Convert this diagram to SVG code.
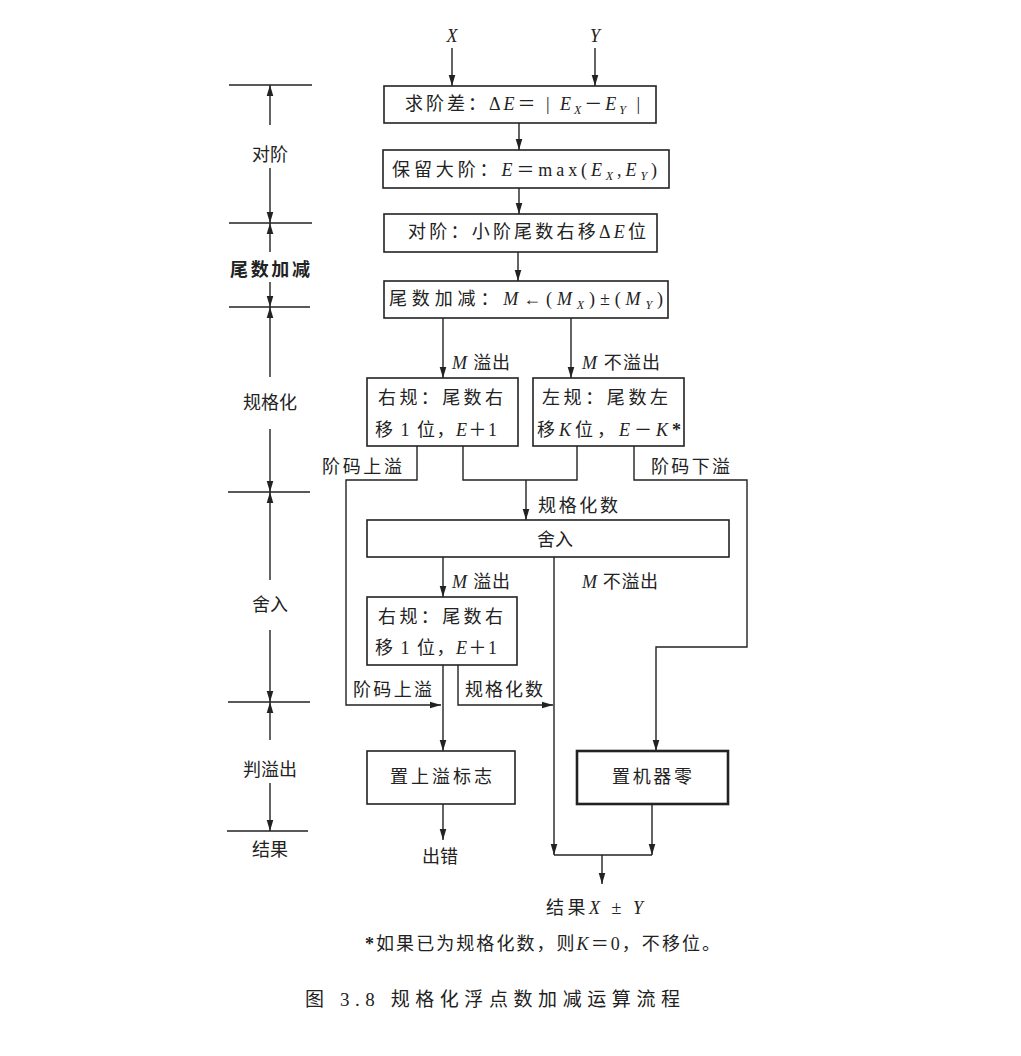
<svg xmlns="http://www.w3.org/2000/svg" width="1021" height="1056" viewBox="0 0 1021 1056">
<style>
.t{font-family:"Liberation Serif","Noto Sans CJK SC",serif;font-size:18px;fill:#222}
.cap{font-size:19px}
.i{font-style:italic}
.s{font-size:12px;font-style:italic}
.b{font-weight:bold}
.box{fill:#fff;stroke:#222;stroke-width:1.6}
.thick{stroke-width:2.6}
.c{fill:none;stroke:#222;stroke-width:1.4}
</style>
<defs>
<marker id="a" viewBox="0 0 10 10" refX="10" refY="5" markerWidth="11" markerHeight="11" markerUnits="userSpaceOnUse" orient="auto"><path d="M0,2 L10,5 L0,8 z" fill="#222"/></marker>
</defs>
<rect width="1021" height="1056" fill="#fff"/>

<g id="scale">
<g class="c">
<line x1="229" y1="85" x2="312" y2="85"/>
<line x1="229" y1="223" x2="312" y2="223"/>
<line x1="229" y1="307" x2="310" y2="307"/>
<line x1="228" y1="492" x2="310" y2="492"/>
<line x1="228" y1="702" x2="310" y2="702"/>
<line x1="227" y1="831" x2="308" y2="831"/>
<line x1="270" y1="125" x2="270" y2="85" marker-end="url(#a)"/>
<line x1="270" y1="168" x2="270" y2="223" marker-end="url(#a)"/>
<line x1="270" y1="252" x2="270" y2="223" marker-end="url(#a)"/>
<line x1="270" y1="282" x2="270" y2="307" marker-end="url(#a)"/>
<line x1="270" y1="377" x2="270" y2="307" marker-end="url(#a)"/>
<line x1="270" y1="429" x2="270" y2="492" marker-end="url(#a)"/>
<line x1="270" y1="580" x2="270" y2="492" marker-end="url(#a)"/>
<line x1="270" y1="630" x2="270" y2="702" marker-end="url(#a)"/>
<line x1="270" y1="740" x2="270" y2="702" marker-end="url(#a)"/>
<line x1="270" y1="783" x2="270" y2="831" marker-end="url(#a)"/>
</g>
<text class="t" x="270" y="161" text-anchor="middle">对阶</text>
<text class="t b" x="270" y="276" text-anchor="middle" textLength="80">尾数加减</text>
<text class="t" x="270" y="409" text-anchor="middle">规格化</text>
<text class="t" x="270" y="611" text-anchor="middle">舍入</text>
<text class="t" x="270" y="776" text-anchor="middle">判溢出</text>
<text class="t" x="270" y="856" text-anchor="middle">结果</text>
</g>

<g id="connectors" class="c">
<line x1="452" y1="48" x2="452" y2="86" marker-end="url(#a)"/>
<line x1="595" y1="48" x2="595" y2="86" marker-end="url(#a)"/>
<line x1="519" y1="123" x2="519" y2="150" marker-end="url(#a)"/>
<line x1="519" y1="188" x2="519" y2="214" marker-end="url(#a)"/>
<line x1="518" y1="252" x2="518" y2="281" marker-end="url(#a)"/>
<line x1="443" y1="318" x2="443" y2="378" marker-end="url(#a)"/>
<line x1="571" y1="318" x2="571" y2="378" marker-end="url(#a)"/>
<polyline points="417,446 417,480 346,480 346,705 441,705" marker-end="url(#a)"/>
<polyline points="463,446 463,480 577,480 577,446"/>
<line x1="526" y1="480" x2="526" y2="520" marker-end="url(#a)"/>
<polyline points="634,446 634,480 747,480 747,647 656,647 656,751" marker-end="url(#a)"/>
<line x1="443" y1="557" x2="443" y2="597" marker-end="url(#a)"/>
<line x1="554" y1="557" x2="554" y2="855" marker-end="url(#a)"/>
<line x1="443" y1="665" x2="443" y2="751" marker-end="url(#a)"/>
<polyline points="458,665 458,705 553,705" marker-end="url(#a)"/>
<line x1="443" y1="804" x2="443" y2="840" marker-end="url(#a)"/>
<line x1="652" y1="804" x2="652" y2="855" marker-end="url(#a)"/>
<line x1="554" y1="855" x2="652" y2="855"/>
<line x1="602" y1="855" x2="602" y2="884" marker-end="url(#a)"/>
</g>

<g id="labels">
<text class="t i" x="452" y="42" text-anchor="middle">X</text>
<text class="t i" x="595" y="42" text-anchor="middle">Y</text>
<text class="t" x="452" y="369" textLength="58"><tspan class="i">M</tspan> 溢出</text>
<text class="t" x="582" y="369" textLength="78"><tspan class="i">M</tspan> 不溢出</text>
<text class="t" x="322" y="473" textLength="80">阶码上溢</text>
<text class="t" x="651" y="473" textLength="79">阶码下溢</text>
<text class="t" x="538" y="512" textLength="80">规格化数</text>
<text class="t" x="452" y="588" textLength="58"><tspan class="i">M</tspan> 溢出</text>
<text class="t" x="582" y="588" textLength="76"><tspan class="i">M</tspan> 不溢出</text>
<text class="t" x="353" y="696" textLength="79">阶码上溢</text>
<text class="t" x="465" y="696" textLength="78">规格化数</text>
<text class="t" x="422" y="863" textLength="36">出错</text>
<text class="t" x="546" y="914" textLength="97">结果<tspan class="i">X</tspan> ± <tspan class="i">Y</tspan></text>
</g>

<g id="n1">
<rect class="box" x="384" y="86" width="272" height="37"/>
<text class="t" x="405" y="110" textLength="235">求阶差：Δ<tspan class="i">E</tspan>＝ | <tspan class="i">E</tspan><tspan class="s" dy="4">X</tspan><tspan dy="-4">－</tspan><tspan class="i">E</tspan><tspan class="s" dy="4">Y</tspan><tspan dy="-4"> |</tspan></text>
</g>
<g id="n2">
<rect class="box" x="383" y="150" width="286" height="38"/>
<text class="t" x="392" y="176" textLength="265">保留大阶：<tspan class="i">E</tspan>＝max(<tspan class="i">E</tspan><tspan class="s" dy="4">X</tspan><tspan dy="-4">,</tspan><tspan class="i">E</tspan><tspan class="s" dy="4">Y</tspan><tspan dy="-4">)</tspan></text>
</g>
<g id="n3">
<rect class="box" x="384" y="214" width="273" height="38"/>
<text class="t" x="408" y="238" textLength="238">对阶：小阶尾数右移Δ<tspan class="i">E</tspan>位</text>
</g>
<g id="n4">
<rect class="box" x="384" y="281" width="284" height="37"/>
<text class="t" x="389" y="305" textLength="274">尾数加减：<tspan class="i">M</tspan>←(<tspan class="i">M</tspan><tspan class="s" dy="4">X</tspan><tspan dy="-4">)±(</tspan><tspan class="i">M</tspan><tspan class="s" dy="4">Y</tspan><tspan dy="-4">)</tspan></text>
</g>
<g id="n5">
<rect class="box" x="367" y="378" width="151" height="68"/>
<text class="t" x="378" y="404" textLength="125">右规：尾数右</text>
<text class="t" x="375" y="436" textLength="122">移 1 位，<tspan class="i">E</tspan>＋1</text>
</g>
<g id="n6">
<rect class="box" x="533" y="378" width="151" height="68"/>
<text class="t" x="542" y="404" textLength="126">左规：尾数左</text>
<text class="t" x="537" y="436" textLength="144">移<tspan class="i">K</tspan>位，<tspan class="i">E</tspan>－<tspan class="i">K</tspan><tspan class="b">*</tspan></text>
</g>
<g id="n7">
<rect class="box" x="367" y="520" width="362" height="37"/>
<text class="t" x="555" y="546" text-anchor="middle">舍入</text>
</g>
<g id="n8">
<rect class="box" x="367" y="597" width="150" height="68"/>
<text class="t" x="378" y="623" textLength="125">右规：尾数右</text>
<text class="t" x="375" y="654" textLength="122">移 1 位，<tspan class="i">E</tspan>＋1</text>
</g>
<g id="n9">
<rect class="box" x="367" y="751" width="148" height="53"/>
<text class="t" x="390" y="783" textLength="102">置上溢标志</text>
</g>
<g id="n10">
<rect class="box thick" x="577" y="751" width="151" height="53"/>
<text class="t" x="612" y="783" textLength="80">置机器零</text>
</g>

<g id="notes">
<text class="t" x="365" y="950" textLength="355"><tspan class="b">*</tspan>如果已为规格化数，则<tspan class="i">K</tspan>＝0，不移位。</text>
<text class="t cap" x="305" y="1006" textLength="375">图 3.8  规格化浮点数加减运算流程</text>
</g>
</svg>
